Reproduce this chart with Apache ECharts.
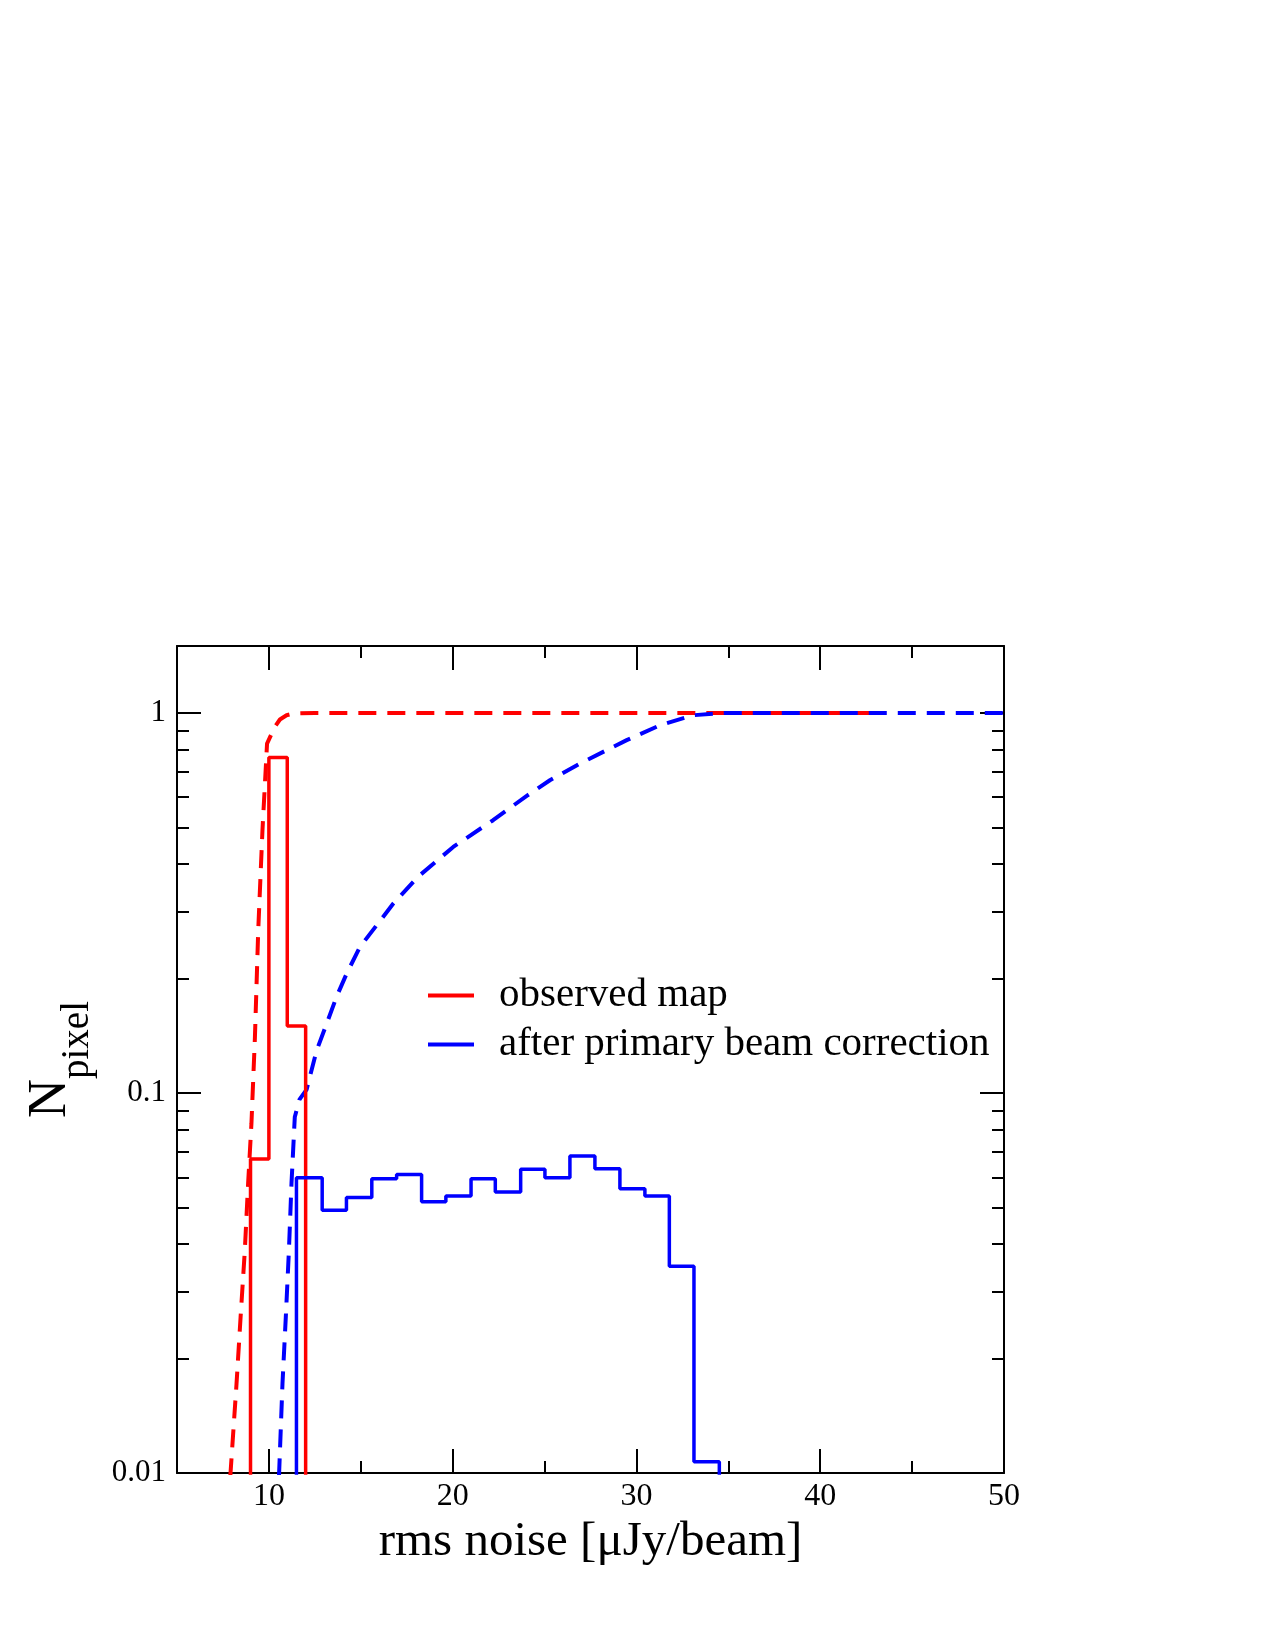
<!DOCTYPE html>
<html style="height: 100%">
<head>
<meta charset="utf-8">
<script src="https://cdn.jsdelivr.net/npm/echarts@6/dist/echarts.min.js"></script>
</head>
<body style="height: 100%; width: 100%; margin: 0; background: #fff">
<div id="main" style="width: 1275px; height: 1650px"></div>
<script type="text/javascript">
// tick positions
var xMajor = [10, 20, 30, 40, 50];
var xMinor = [15, 25, 35, 45];
var yMajor = [0.01, 0.1, 1];
var yMinor = [0.02, 0.03, 0.04, 0.05, 0.06, 0.07, 0.08, 0.09,
              0.2, 0.3, 0.4, 0.5, 0.6, 0.7, 0.8, 0.9];

// histogram of the observed map (bin edges + fraction per bin)
var obsEdges = [9, 10, 11, 12];
var obsHist = [0.067, 0.763, 0.150];

// histogram after primary beam correction
var pbEdges = [11.5, 12.9, 14.22, 15.6, 16.95, 18.31, 19.63, 21.0, 22.32, 23.7,
               25.02, 26.38, 27.74, 29.1, 30.46, 31.79, 33.13, 34.51];
var pbHist = [0.0598, 0.0491, 0.0531, 0.0595, 0.061, 0.0517, 0.0536, 0.0595, 0.0549,
              0.063, 0.0598, 0.0683, 0.0632, 0.056, 0.0536, 0.035, 0.0107];

// cumulative curves (dashed)
var obsCumX = [7.9, 8.24, 8.46, 8.69, 8.87, 9.05, 9.24, 9.42, 9.65, 9.9, 10.32, 10.6, 10.96, 11.32, 12.5, 43.2];
var obsCumY = [0.0098, 0.0172, 0.0257, 0.0385, 0.0578, 0.083, 0.14, 0.268, 0.491, 0.83, 0.919, 0.961, 0.986, 0.996, 1.0, 1.0];
var pbCumX = [10.55, 10.74, 10.92, 11.09, 11.23, 11.41, 11.66, 12.05, 12.59, 13.14, 13.68, 14.23, 14.95,
              16.77, 18.1, 20.03, 22.2, 24.03, 25.29, 26.93, 29.47, 31.28, 33.09, 34.73, 50];
var pbCumY = [0.0098, 0.0172, 0.0257, 0.0385, 0.0578, 0.0865, 0.096, 0.102, 0.129, 0.152, 0.179, 0.206, 0.242,
              0.315, 0.37, 0.444, 0.522, 0.605, 0.665, 0.736, 0.848, 0.928, 0.986, 1.0, 1.0];

var FONT = 'Liberation Serif';
var BELOW = 0.001; // below the axis, clipped away

function histPoints(edges, vals) {
    var pts = [[edges[0], BELOW]];
    for (var i = 0; i < vals.length; i++) {
        pts.push([edges[i], vals[i]]);
    }
    pts.push([edges[edges.length - 1], vals[vals.length - 1]]);
    pts.push([edges[edges.length - 1], BELOW]);
    return pts;
}

function zipXY(xs, ys) {
    var pts = [];
    for (var i = 0; i < xs.length; i++) pts.push([xs[i], ys[i]]);
    return pts;
}

function xAx(pos, ticks, len, labels, line) {
    return {
        type: 'value', position: pos, min: 5, max: 50,
        splitLine: { show: false },
        axisLine: { show: line, onZero: false, lineStyle: { color: '#000', width: 2 } },
        axisTick: { show: true, inside: true, length: len, customValues: ticks,
                    lineStyle: { color: '#000', width: 2 } },
        axisLabel: { show: labels, customValues: ticks, margin: 8, color: '#000',
                     fontFamily: FONT, fontSize: 32 }
    };
}

function yAx(pos, ticks, len, labels, line) {
    return {
        type: 'log', logBase: 10, position: pos, min: 0.01, max: 1.5,
        splitLine: { show: false },
        axisLine: { show: line, onZero: false, lineStyle: { color: '#000', width: 2 } },
        axisTick: { show: true, inside: true, length: len, customValues: ticks,
                    lineStyle: { color: '#000', width: 2 } },
        axisLabel: { show: labels, customValues: ticks, margin: 11, color: '#000',
                     fontFamily: FONT, fontSize: 31,
                     formatter: function (v) { return String(+v.toPrecision(3)); } }
    };
}

var chart = echarts.init(document.getElementById('main'));

var xAxes = [
    xAx('bottom', xMajor, 24, true, true),
    xAx('bottom', xMinor, 12, false, false),
    xAx('top', xMajor, 24, false, true),
    xAx('top', xMinor, 12, false, false)
];
xAxes[0].name = 'rms noise [\u03bcJy/beam]';
xAxes[0].nameLocation = 'middle';
xAxes[0].nameGap = 40;
xAxes[0].nameTextStyle = { fontFamily: FONT, fontSize: 49, color: '#000' };

var yAxes = [
    yAx('left', yMajor, 24, true, true),
    yAx('left', yMinor, 12, false, false),
    yAx('right', yMajor, 24, false, true),
    yAx('right', yMinor, 12, false, false)
];
yAxes[0].name = '{n|N}{s|pixel}';
yAxes[0].nameLocation = 'middle';
yAxes[0].nameRotate = 90;
yAxes[0].nameGap = 80;
yAxes[0].nameTextStyle = {
    fontFamily: FONT, color: '#000',
    rich: {
        n: { fontFamily: FONT, fontSize: 54, color: '#000' },
        s: { fontFamily: FONT, fontSize: 39, color: '#000', padding: [54, 0, 0, 0] }
    }
};

function lineSeries(name, data, color, width, dashed, step) {
    return {
        name: name, type: 'line', data: data, step: step || false,
        xAxisIndex: 0, yAxisIndex: 0, showSymbol: false, symbol: 'none',
        clip: true, silent: true,
        itemStyle: { color: color },
        lineStyle: { color: color, width: width, type: dashed ? [18, 11] : 'solid', cap: 'butt' }
    };
}

var option = {
    animation: false,
    backgroundColor: '#fff',
    grid: { left: 177, top: 646, width: 827, height: 827, containLabel: false },
    legend: {
        data: ['observed map', 'after primary beam correction'],
        orient: 'vertical', left: 423, top: 970,
        icon: 'rect', itemWidth: 46, itemHeight: 4, itemGap: 8,
        textStyle: { fontFamily: FONT, fontSize: 41, color: '#000', padding: [0, 0, 0, 20] },
        selectedMode: false
    },
    xAxis: xAxes,
    yAxis: yAxes,
    series: [
        lineSeries('obs cumulative', zipXY(obsCumX, obsCumY), '#ff0000', 4, true),
        lineSeries('pb cumulative', zipXY(pbCumX, pbCumY), '#0000ff', 4, true),
        lineSeries('observed map', histPoints(obsEdges, obsHist), '#ff0000', 3.5, false, 'end'),
        lineSeries('after primary beam correction', histPoints(pbEdges, pbHist), '#0000ff', 3.5, false, 'end')
    ]
};

chart.setOption(option);
</script>
</body>
</html>
